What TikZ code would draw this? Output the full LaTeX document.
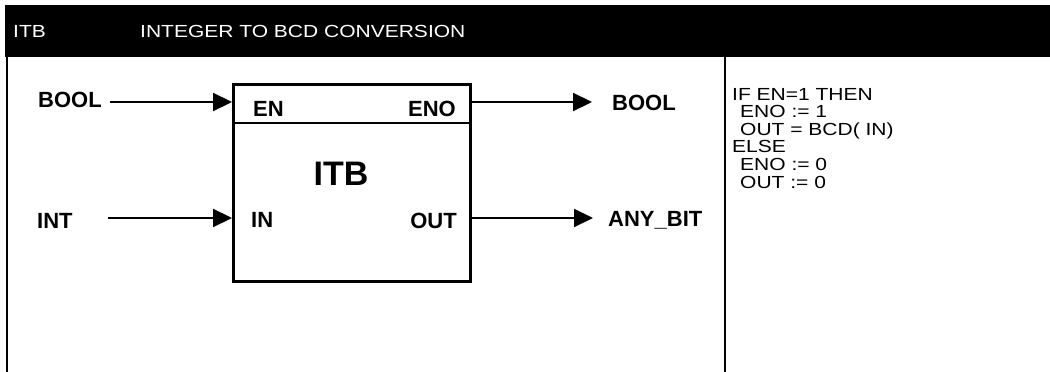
\documentclass[tikz,border=0pt]{standalone}
\usepackage{fontspec}
\setmainfont{Liberation Sans}
\usetikzlibrary{arrows.meta}
\newcommand{\wide}[1]{\scalebox{1.2}[1]{#1}}
\begin{document}
\begin{tikzpicture}[x=1pt,y=-1pt,
  hdr/.style={anchor=base west, inner sep=0pt, text=white, font=\fontsize{17.5}{21}\selectfont},
  lbl/.style={inner sep=0pt, font=\bfseries\fontsize{22}{26}\selectfont},
  code/.style={anchor=base west, inner sep=0pt, font=\fontsize{17.5}{21}\selectfont},
  fbox/.style={draw, line width=2.5pt, minimum width=237pt, minimum height=197pt, inner sep=0pt, anchor=north west},
  rule/.style={line width=2pt},
  conn/.style={line width=2.2pt, -{Triangle[length=19pt,width=18pt]}}]
\useasboundingbox (0,0) rectangle (1050,372);
% header band
\fill (5,5) rectangle (1050,57);
\node[hdr] (h1) at (13,37) {\wide{ITB}};
\node[hdr] (h2) at (140,37) {\wide{INTEGER TO BCD CONVERSION}};
% frame lines
\draw[rule] (7,56) -- (7,372);
\draw[rule] (725,56) -- (725,372);
% function block
\node[fbox] (fb) at (232,83) {};
\draw[line width=2.5pt] (fb.north west |- 0,123) -- (fb.north east |- 0,123);
\node[lbl, anchor=base west] (en) at (253,116) {EN};
\node[lbl, anchor=base east] (eno) at (456,116) {ENO};
\node[inner sep=0pt, anchor=base, font=\bfseries\fontsize{34}{40}\selectfont] (itb) at (341,185) {ITB};
\node[lbl, anchor=base west] (in) at (251,227) {IN};
\node[lbl, anchor=base east] (out) at (457,228) {OUT};
% external labels
\node[lbl, anchor=base west] (boolL) at (38,107) {BOOL};
\node[lbl, anchor=base west] (intL) at (37,228) {INT};
\node[lbl, anchor=base west] (boolR) at (612,110) {BOOL};
\node[lbl, anchor=base west] (anyR) at (608,226) {ANY\_BIT};
% connectors
\coordinate (bin) at (110,102);
\coordinate (iin) at (108,218);
\coordinate (bout) at (592,102);
\coordinate (aout) at (593,218);
\draw[conn] (bin) -- (fb.west |- bin);
\draw[conn] (iin) -- (fb.west |- iin);
\draw[conn] (fb.east |- bout) -- (bout);
\draw[conn] (fb.east |- aout) -- (aout);
% code text
\node[code] (c1) at (732,100) {\wide{IF EN=1 THEN}};
\node[code] (c2) at (740,117.6) {\wide{ENO := 1}};
\node[code] (c3) at (740,135.2) {\wide{OUT = BCD( IN)}};
\node[code] (c4) at (732,152.8) {\wide{ELSE}};
\node[code] (c5) at (740,170.4) {\wide{ENO := 0}};
\node[code] (c6) at (740,188) {\wide{OUT := 0}};
\end{tikzpicture}
\end{document}
